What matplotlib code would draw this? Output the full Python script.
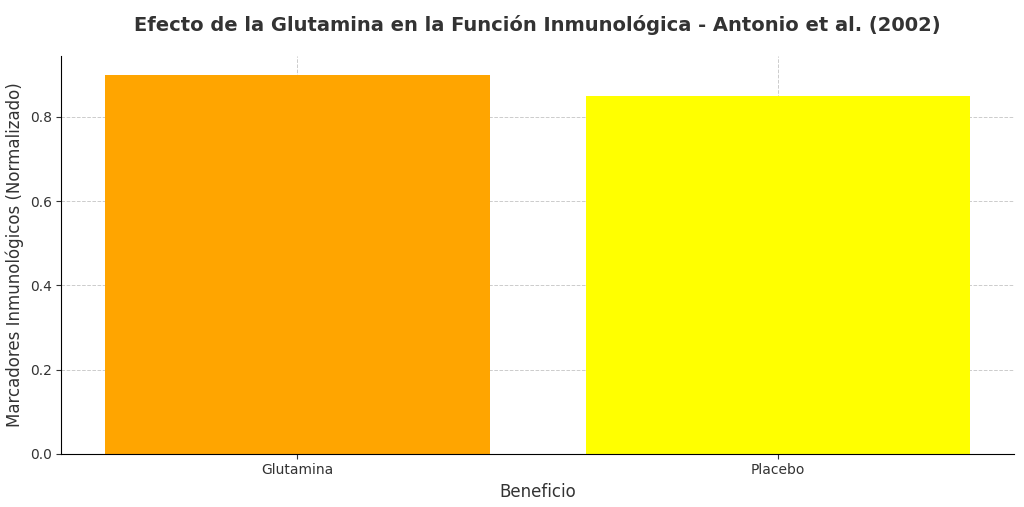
import matplotlib.pyplot as plt

categories = ["Glutamina", "Placebo"]
values = [0.90, 0.85]
colors = ["orange", "yellow"]

fig, ax = plt.subplots(figsize=(10.24, 5.07), dpi=100)
ax.bar(categories, values, color=colors, zorder=2)
ax.grid(True, linestyle="--", color="#cccccc", linewidth=0.7, zorder=0)
ax.set_axisbelow(True)
for s in ["top", "right"]:
    ax.spines[s].set_visible(False)
ax.set_xlabel("Beneficio", fontsize=12, color="#333333")
ax.set_ylabel("Marcadores Inmunológicos (Normalizado)", fontsize=12, color="#333333")
ax.set_title("Efecto de la Glutamina en la Función Inmunológica - Antonio et al. (2002)",
             fontsize=14, fontweight="bold", color="#333333", pad=18)
ax.tick_params(colors="#333333")
plt.subplots_adjust(left=0.06, right=0.99, top=0.89, bottom=0.105)
plt.savefig("out.png", dpi=100)
